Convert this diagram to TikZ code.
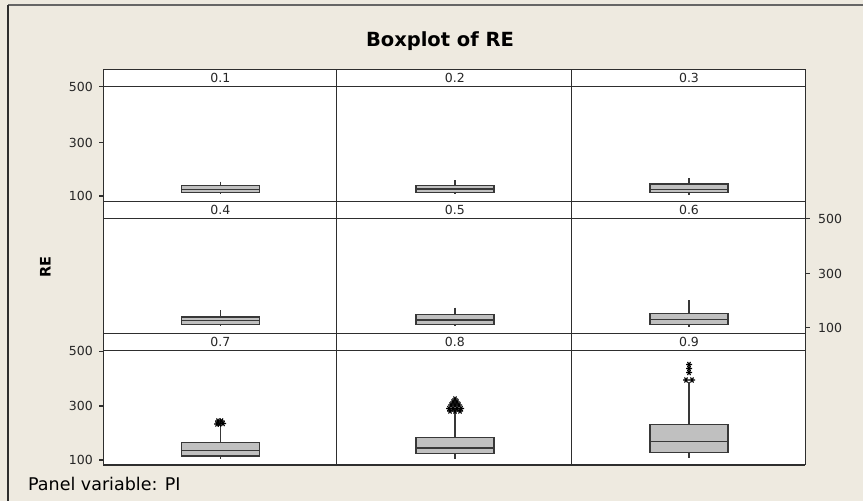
\documentclass[tikz,border=0pt]{standalone}
\usepackage{fontspec}
\setmainfont{DejaVu Sans}
\definecolor{bgc}{HTML}{EEEAE0}
\definecolor{frm}{HTML}{2E2E2E}
\definecolor{boxf}{HTML}{C0C0C0}
\definecolor{boxd}{HTML}{383838}
\tikzset{
  grid/.style={draw=frm, line width=1.5pt},
  bx/.style={draw=boxd, fill=boxf, line width=1.4pt},
  med/.style={draw=boxd, line width=1.4pt},
  wsk/.style={draw=boxd, line width=1.4pt},
  tick/.style={draw=frm, line width=1.2pt},
  ticklab/.style={font=\fontsize{12.5}{14}\selectfont, inner sep=0pt, text=black!85},
  striplab/.style={font=\fontsize{12.5}{14}\selectfont, inner sep=0pt, text=black!85},
  ast/.pic={\draw[line width=1.1pt, black] (-3,0)--(3,0) (-1.5,-2.6)--(1.5,2.6) (-1.5,2.6)--(1.5,-2.6);}
}
\newcommand\boxplt[6]{%
  \draw[wsk] (#1,#2) -- (#1,#3);
  \draw[wsk] (#1,#5) -- (#1,#6);
  \filldraw[bx] ({#1-39},#3) rectangle ({#1+39},#5);
  \draw[med] ({#1-39},#4) -- ({#1+39},#4);
}
\begin{document}
\begin{tikzpicture}[x=1pt,y=-1pt]
\fill[bgc] (0,0) rectangle (863,501);
\useasboundingbox (0,0) rectangle (863,501);
% outer frame
\draw[color=gray!80!black, line width=1.3pt] (8,5) -- (863,5);
\draw[color=frm, line width=1.5pt] (8,5) -- (8,501);
% title
\node[font=\bfseries\fontsize{19.5}{22}\selectfont, inner sep=0pt] (title) at (440,41) {Boxplot of RE};
% y label
\node[font=\bfseries\fontsize{14.5}{16}\selectfont, rotate=90, inner sep=0pt] (ylab) at (45.3,267) {RE};
% panel variable
\node[font=\fontsize{17.5}{19}\selectfont, anchor=west, inner sep=0pt] (pv) at (28,484) {Panel variable: PI};
% panel area
\fill[white] (103.3,69.3) rectangle (805.3,465);
\foreach \yy in {69.3,86.7,201.3,218.7,333.3,350.7,465} {\draw[grid] (103.3,\yy) -- (805.3,\yy);}
\foreach \xx in {103.3,336.7,571.3,805.3} {\draw[grid] (\xx,69.3) -- (\xx,465);}
% strip labels
\node[striplab] (s1) at (220.3,78) {0.1};
\node[striplab] (s2) at (454.9,78) {0.2};
\node[striplab] (s3) at (689,78) {0.3};
\node[striplab] (s4) at (220.3,210) {0.4};
\node[striplab] (s5) at (454.9,210) {0.5};
\node[striplab] (s6) at (689,210) {0.6};
\node[striplab] (s7) at (220.3,342) {0.7};
\node[striplab] (s8) at (454.9,342) {0.8};
\node[striplab] (s9) at (689,342) {0.9};
% left axis row 1
\foreach \yy/\lab [count=\i] in {86.7/500,142.7/300,196/100} {
  \draw[tick] (99,\yy) -- (103.3,\yy);
  \node[ticklab, anchor=east] (la\i) at (93,\yy) {\lab};
}
% left axis row 3
\foreach \yy/\lab [count=\i] in {351.2/500,406/300,460/100} {
  \draw[tick] (99,\yy) -- (103.3,\yy);
  \node[ticklab, anchor=east] (lc\i) at (93,\yy) {\lab};
}
% right axis row 2
\foreach \yy/\lab [count=\i] in {218.7/500,273.7/300,327.5/100} {
  \draw[tick] (805.3,\yy) -- (810,\yy);
  \node[ticklab, anchor=west] (rb\i) at (818,\yy) {\lab};
}
% boxes row 1
\boxplt{220.3}{181.7}{185.7}{189.3}{192.3}{194.3}
\boxplt{454.9}{180}{185.3}{189}{192.7}{194.3}
\boxplt{689}{178.3}{184}{189.5}{192.7}{194.5}
% row 2
\boxplt{220.3}{310}{317}{320.7}{324.3}{326}
\boxplt{454.9}{307.7}{314.3}{320}{324.3}{326}
\boxplt{689}{300}{313.7}{319.7}{324.3}{327}
% row 3
\boxplt{220.3}{425}{442.7}{450.7}{456}{458.7}
\boxplt{454.9}{412}{437.7}{448}{453.3}{458.7}
\boxplt{689}{381.7}{424.7}{441.3}{452.3}{457.7}
% outliers
\foreach \p in {(218,421),(221.5,421),(223,423.5),(219.5,424),(217,424)} {\pic at \p {ast};}
\foreach \p in {(455,399),(453,402),(457,402),(451,405),(455,405),(459,405),(449,408.5),(453,408.5),(457,408.5),(461,408.5),(450,411),(455,411),(460,411)} {\pic at \p {ast};}
\foreach \p in {(686,380),(692,380),(689,372.5),(689,368.5),(689,364.5)} {\pic at \p {ast};}
\end{tikzpicture}
\end{document}
